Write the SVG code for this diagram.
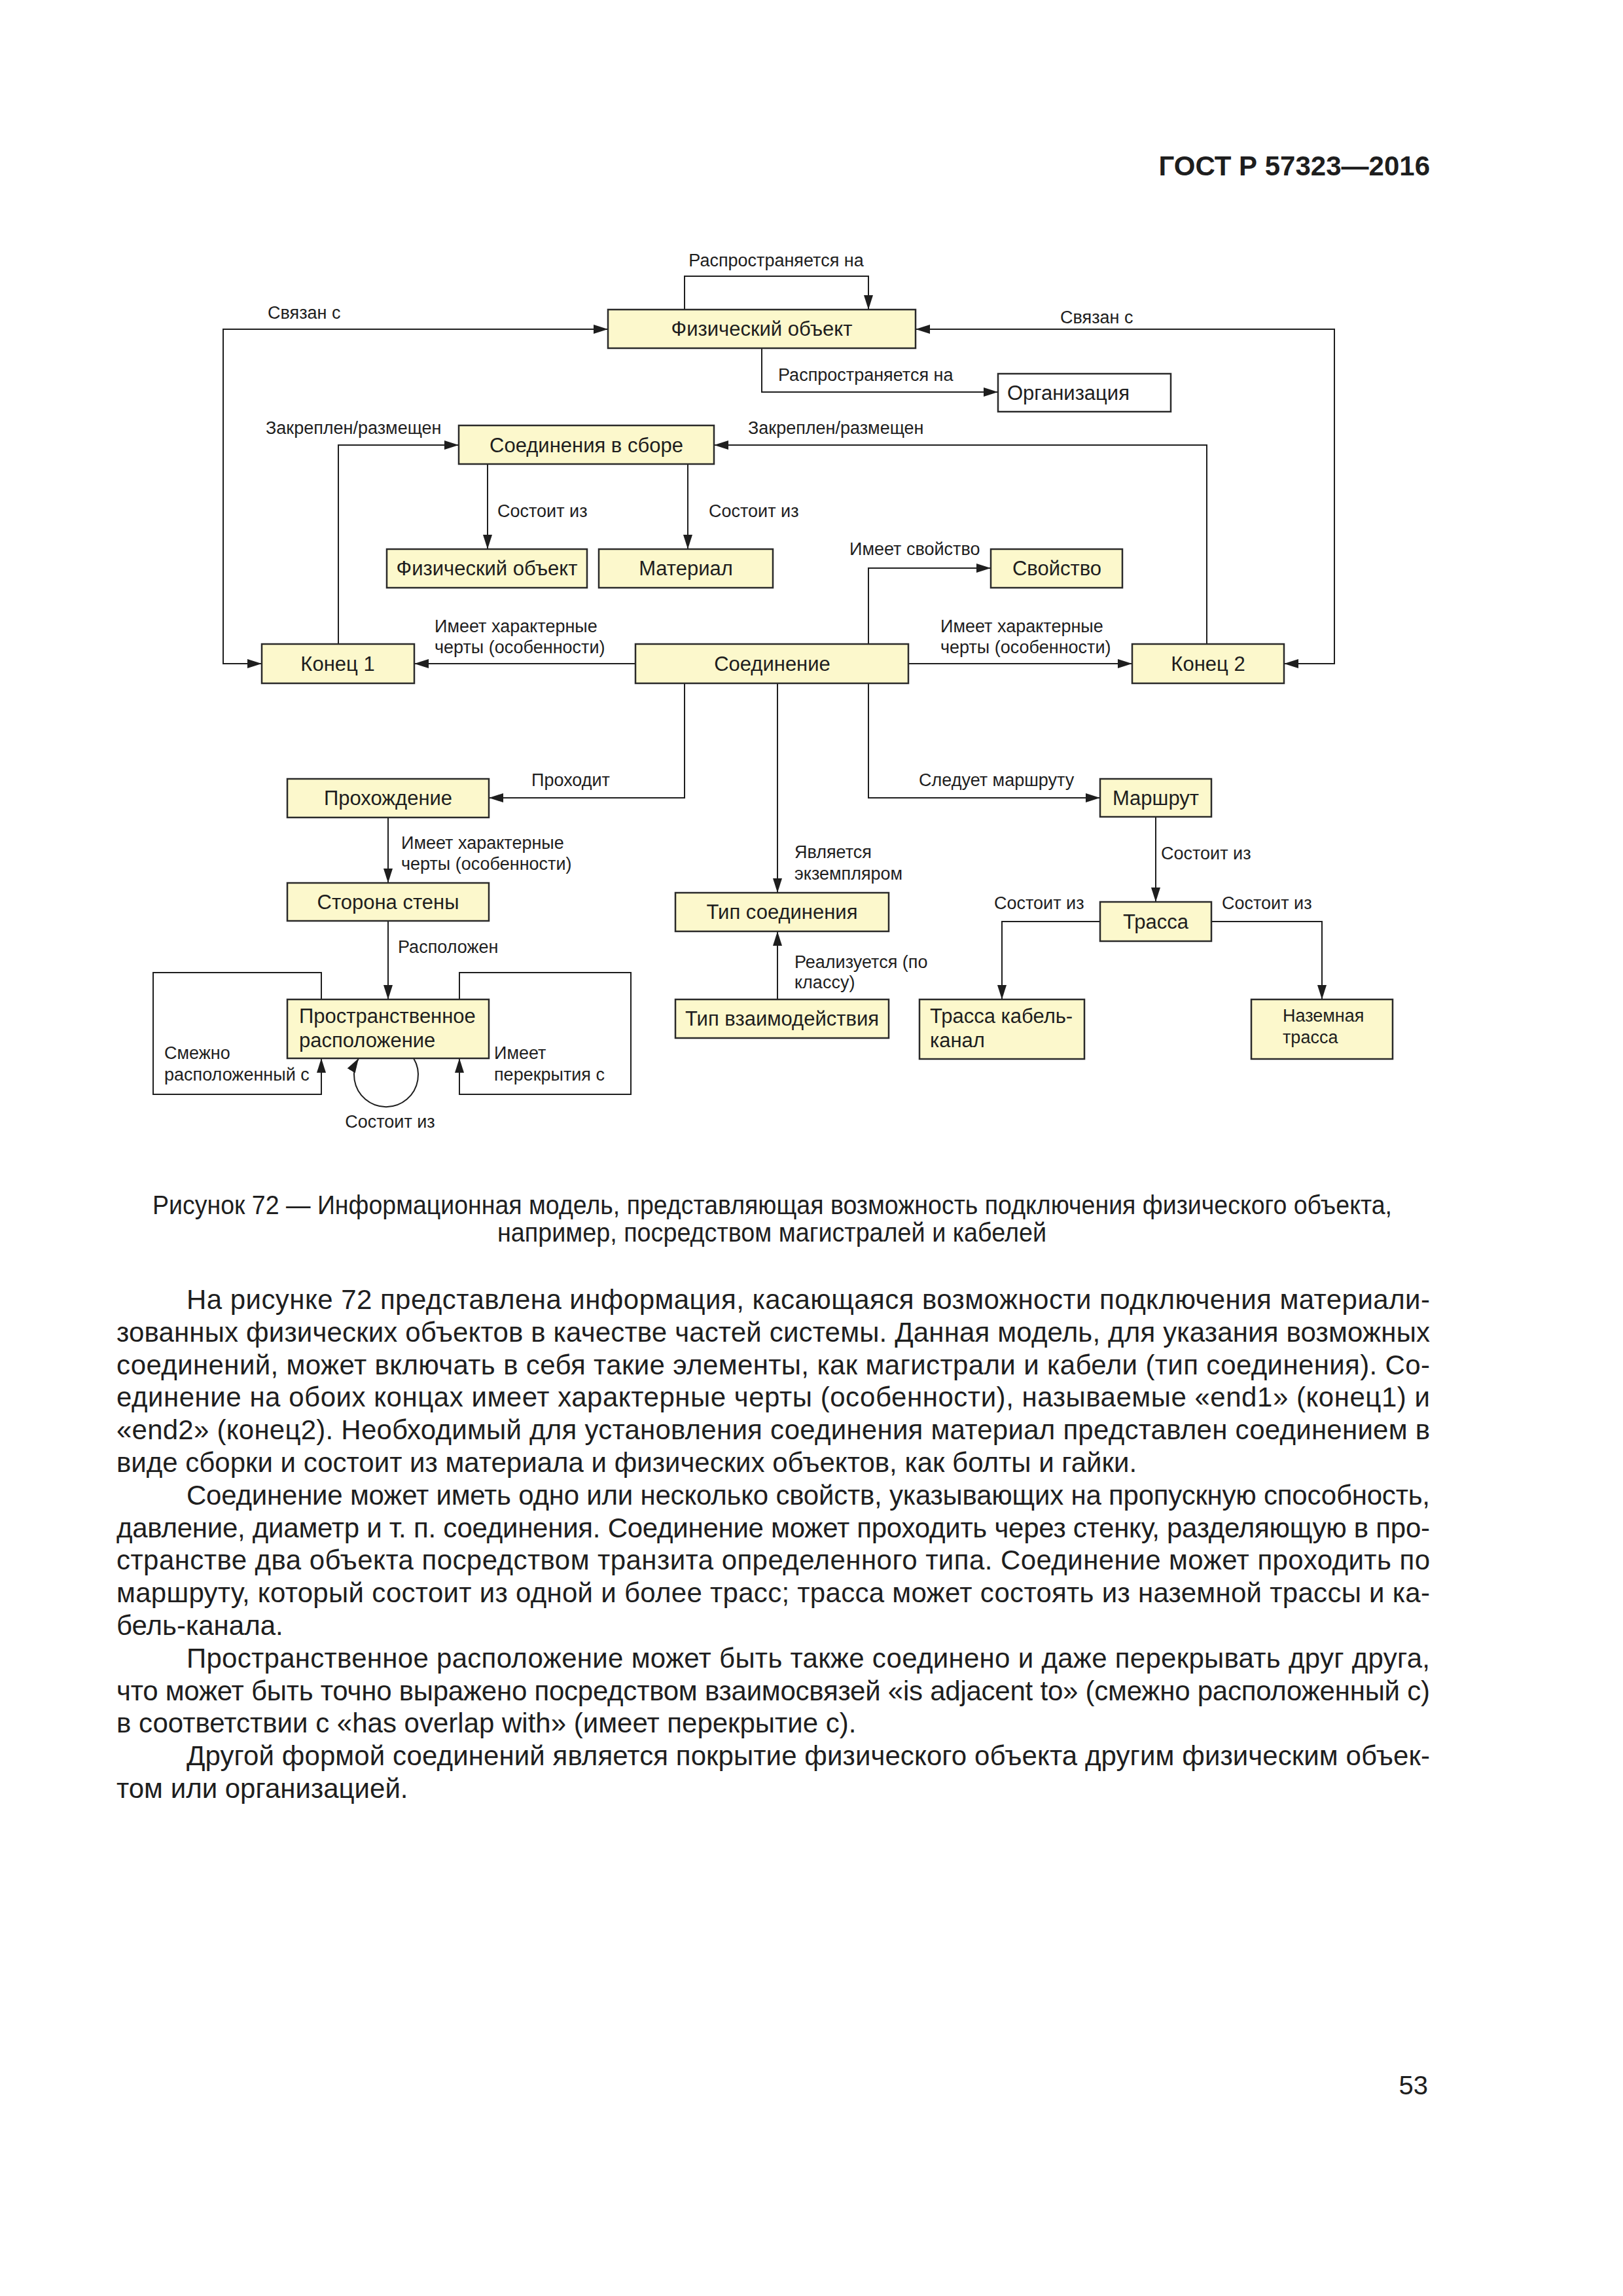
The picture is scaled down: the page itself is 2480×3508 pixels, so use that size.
<svg xmlns="http://www.w3.org/2000/svg" width="2480" height="3508" viewBox="0 0 2480 3508">
<style>
text{font-family:"Liberation Sans",Arial,sans-serif;fill:#1e1e1e}
.n{font-size:31px}
.ns{font-size:27px}
.l{font-size:27px}
.b{font-size:42px}
.cap{font-size:40px}
.hdr{font-size:42px;font-weight:bold}
.box{fill:#fcf8cc;stroke:#2a2a2a;stroke-width:2.5}
.wbox{fill:#ffffff;stroke:#2a2a2a;stroke-width:2.5}
.c{fill:none;stroke:#1e1e1e;stroke-width:2}
.a{marker-end:url(#ah)}
.a2{marker-start:url(#ah);marker-end:url(#ah)}
</style>
<defs>
<marker id="ah" markerUnits="userSpaceOnUse" markerWidth="22" markerHeight="14" refX="22" refY="7" orient="auto-start-reverse" viewBox="0 0 22 14">
<path d="M0,0 L22,7 L0,14 z" fill="#1e1e1e"/>
</marker>
</defs>
<rect width="2480" height="3508" fill="#ffffff"/>
<text class="hdr" x="2185" y="268" text-anchor="end">ГОСТ Р 57323—2016</text>

<g id="connectors">
<path class="c a" d="M1046,473 V422 H1327 V473"/>
<path class="c a2" d="M929,503 H341 V1014 H400"/>
<path class="c a2" d="M1399,503 H2039 V1014 H1962"/>
<path class="c a" d="M1164,532 V599 H1525"/>
<path class="c a" d="M517,984 V680 H701"/>
<path class="c a" d="M1844,984 V680 H1091"/>
<path class="c a" d="M745,709 V839"/>
<path class="c a" d="M1051,709 V839"/>
<path class="c a" d="M1327,984 V868 H1514"/>
<path class="c a" d="M971,1014 H633"/>
<path class="c a" d="M1388,1014 H1730"/>
<path class="c a" d="M1046,1044 V1219 H747"/>
<path class="c a" d="M1188,1044 V1364"/>
<path class="c a" d="M1327,1044 V1219 H1681"/>
<path class="c a" d="M593,1249 V1349"/>
<path class="c a" d="M593,1407 V1527"/>
<path class="c a" d="M1188,1527 V1423"/>
<path class="c a" d="M1766,1248 V1378"/>
<path class="c a" d="M1681,1408 H1531 V1527"/>
<path class="c a" d="M1851,1408 H2020 V1527"/>
<path class="c a" d="M491,1527 V1486 H234 V1672 H491 V1617"/>
<path class="c a" d="M702,1527 V1486 H964 V1672 H702 V1617"/>
<path class="c a" d="M632,1617 A49,49 0 1 1 548,1617"/>
</g>

<g id="edge-labels">
<text class="l" x="1186" y="407" text-anchor="middle">Распространяется на</text>
<text class="l" x="409" y="487">Связан с</text>
<text class="l" x="1620" y="494">Связан с</text>
<text class="l" x="1189" y="582">Распространяется на</text>
<text class="l" x="406" y="663">Закреплен/размещен</text>
<text class="l" x="1143" y="663">Закреплен/размещен</text>
<text class="l" x="760" y="790">Состоит из</text>
<text class="l" x="1083" y="790">Состоит из</text>
<text class="l" x="1298" y="848">Имеет свойство</text>
<text class="l" x="664" y="966">Имеет характерные</text>
<text class="l" x="664" y="998">черты (особенности)</text>
<text class="l" x="1437" y="966">Имеет характерные</text>
<text class="l" x="1437" y="998">черты (особенности)</text>
<text class="l" x="812" y="1201">Проходит</text>
<text class="l" x="1404" y="1201">Следует маршруту</text>
<text class="l" x="613" y="1297">Имеет характерные</text>
<text class="l" x="613" y="1329">черты (особенности)</text>
<text class="l" x="1214" y="1311">Является</text>
<text class="l" x="1214" y="1344">экземпляром</text>
<text class="l" x="1774" y="1313">Состоит из</text>
<text class="l" x="1519" y="1389">Состоит из</text>
<text class="l" x="1867" y="1389">Состоит из</text>
<text class="l" x="608" y="1456">Расположен</text>
<text class="l" x="1214" y="1479">Реализуется (по</text>
<text class="l" x="1214" y="1510">классу)</text>
<text class="l" x="251" y="1618">Смежно</text>
<text class="l" x="251" y="1651">расположенный с</text>
<text class="l" x="755" y="1618">Имеет</text>
<text class="l" x="755" y="1651">перекрытия с</text>
<text class="l" x="596" y="1723" text-anchor="middle">Состоит из</text>
</g>

<g id="node-fiz-obj-top"><rect class="box" x="929" y="473" width="470" height="59"/><text class="n" x="1164" y="513" text-anchor="middle">Физический объект</text></g>
<g id="node-org"><rect class="wbox" x="1525" y="571" width="264" height="58"/><text class="n" x="1539" y="611">Организация</text></g>
<g id="node-sborka"><rect class="box" x="701" y="650" width="390" height="59"/><text class="n" x="896" y="691" text-anchor="middle">Соединения в сборе</text></g>
<g id="node-fiz-obj"><rect class="box" x="591" y="839" width="306" height="59"/><text class="n" x="744" y="879" text-anchor="middle">Физический объект</text></g>
<g id="node-material"><rect class="box" x="915" y="839" width="266" height="59"/><text class="n" x="1048" y="879" text-anchor="middle">Материал</text></g>
<g id="node-svoistvo"><rect class="box" x="1514" y="839" width="201" height="59"/><text class="n" x="1615" y="879" text-anchor="middle">Свойство</text></g>
<g id="node-konec1"><rect class="box" x="400" y="984" width="233" height="60"/><text class="n" x="516" y="1025" text-anchor="middle">Конец 1</text></g>
<g id="node-soedinenie"><rect class="box" x="971" y="984" width="417" height="60"/><text class="n" x="1180" y="1025" text-anchor="middle">Соединение</text></g>
<g id="node-konec2"><rect class="box" x="1730" y="984" width="232" height="60"/><text class="n" x="1846" y="1025" text-anchor="middle">Конец 2</text></g>
<g id="node-prohozhdenie"><rect class="box" x="439" y="1190" width="308" height="59"/><text class="n" x="593" y="1230" text-anchor="middle">Прохождение</text></g>
<g id="node-marshrut"><rect class="box" x="1681" y="1190" width="170" height="58"/><text class="n" x="1766" y="1230" text-anchor="middle">Маршрут</text></g>
<g id="node-storona"><rect class="box" x="439" y="1349" width="308" height="58"/><text class="n" x="593" y="1389" text-anchor="middle">Сторона стены</text></g>
<g id="node-tip-soed"><rect class="box" x="1032" y="1364" width="326" height="59"/><text class="n" x="1195" y="1404" text-anchor="middle">Тип соединения</text></g>
<g id="node-trassa"><rect class="box" x="1681" y="1378" width="170" height="60"/><text class="n" x="1766" y="1419" text-anchor="middle">Трасса</text></g>
<g id="node-prostr"><rect class="box" x="439" y="1527" width="308" height="90"/><text class="n" x="457" y="1563">Пространственное</text><text class="n" x="457" y="1600">расположение</text></g>
<g id="node-tip-vz"><rect class="box" x="1032" y="1527" width="326" height="59"/><text class="n" x="1195" y="1567" text-anchor="middle">Тип взаимодействия</text></g>
<g id="node-kabel"><rect class="box" x="1405" y="1527" width="252" height="91"/><text class="n" x="1421" y="1563">Трасса кабель-</text><text class="n" x="1421" y="1600">канал</text></g>
<g id="node-nazem"><rect class="box" x="1912" y="1527" width="216" height="91"/><text class="ns" x="1960" y="1561">Наземная</text><text class="ns" x="1960" y="1594">трасса</text></g>

<g id="caption">
<text class="cap" x="233" y="1855" textLength="1894" lengthAdjust="spacingAndGlyphs">Рисунок 72 — Информационная модель, представляющая возможность подключения физического объекта,</text>
<text class="cap" x="760" y="1897" textLength="839" lengthAdjust="spacingAndGlyphs">например, посредством магистралей и кабелей</text>
</g>

<g id="body">
<text class="b" x="285" y="2000" textLength="1900" lengthAdjust="spacing">На рисунке 72 представлена информация, касающаяся возможности подключения материали-</text>
<text class="b" x="178" y="2050" textLength="2007" lengthAdjust="spacing">зованных физических объектов в качестве частей системы. Данная модель, для указания возможных</text>
<text class="b" x="178" y="2100" textLength="2007" lengthAdjust="spacing">соединений, может включать в себя такие элементы, как магистрали и кабели (тип соединения). Со-</text>
<text class="b" x="178" y="2149" textLength="2007" lengthAdjust="spacing">единение на обоих концах имеет характерные черты (особенности), называемые «end1» (конец1) и</text>
<text class="b" x="178" y="2199" textLength="2007" lengthAdjust="spacing">«end2» (конец2). Необходимый для установления соединения материал представлен соединением в</text>
<text class="b" x="178" y="2249">виде сборки и состоит из материала и физических объектов, как болты и гайки.</text>
<text class="b" x="285" y="2299" textLength="1900" lengthAdjust="spacing">Соединение может иметь одно или несколько свойств, указывающих на пропускную способность,</text>
<text class="b" x="178" y="2349" textLength="2007" lengthAdjust="spacing">давление, диаметр и т. п. соединения. Соединение может проходить через стенку, разделяющую в про-</text>
<text class="b" x="178" y="2398" textLength="2007" lengthAdjust="spacing">странстве два объекта посредством транзита определенного типа. Соединение может проходить по</text>
<text class="b" x="178" y="2448" textLength="2007" lengthAdjust="spacing">маршруту, который состоит из одной и более трасс; трасса может состоять из наземной трассы и ка-</text>
<text class="b" x="178" y="2498">бель-канала.</text>
<text class="b" x="285" y="2548" textLength="1900" lengthAdjust="spacing">Пространственное расположение может быть также соединено и даже перекрывать друг друга,</text>
<text class="b" x="178" y="2598" textLength="2007" lengthAdjust="spacing">что может быть точно выражено посредством взаимосвязей «is adjacent to» (смежно расположенный с)</text>
<text class="b" x="178" y="2647">в соответствии с «has overlap with» (имеет перекрытие с).</text>
<text class="b" x="285" y="2697" textLength="1900" lengthAdjust="spacing">Другой формой соединений является покрытие физического объекта другим физическим объек-</text>
<text class="b" x="178" y="2747">том или организацией.</text>
</g>

<text class="cap" x="2182" y="3200" text-anchor="end">53</text>
</svg>
